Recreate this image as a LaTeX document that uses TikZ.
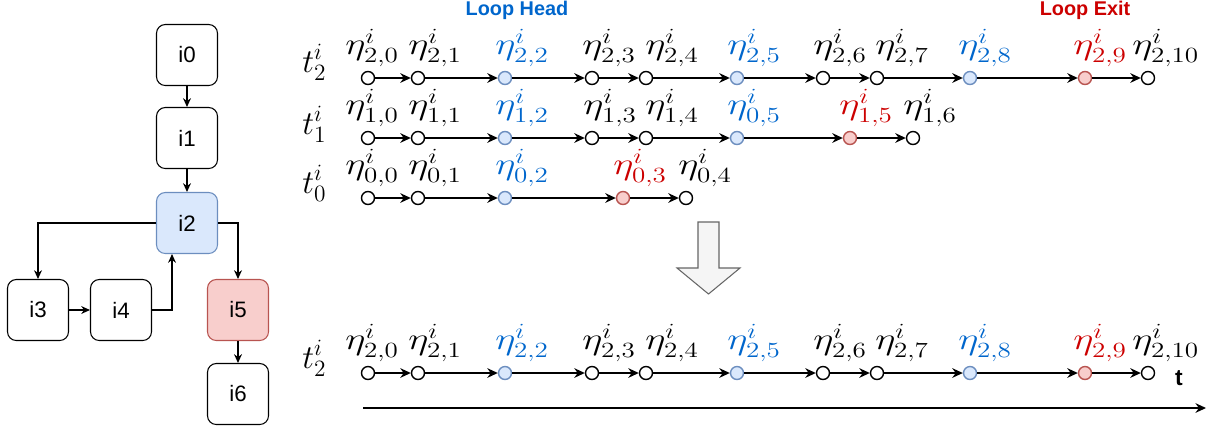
\RequirePackage{fix-cm}
\documentclass[tikz,border=0pt]{standalone}
\usepackage{fontspec}
\setsansfont{Liberation Sans}
\usetikzlibrary{arrows.meta, positioning}

\definecolor{headfill}{HTML}{DAE8FC}
\definecolor{headdraw}{HTML}{6C8EBF}
\definecolor{exitfill}{HTML}{F8CECC}
\definecolor{exitdraw}{HTML}{B85450}
\definecolor{headtext}{HTML}{0066CC}
\definecolor{exittext}{HTML}{CC0000}
\definecolor{bigfill}{HTML}{F5F5F5}
\definecolor{bigdraw}{HTML}{666666}

\begin{document}
\begin{tikzpicture}[
  x=0.02cm, y=-0.02cm,
  blk/.style={rectangle, rounded corners=5pt, draw=black, line width=0.6pt, fill=white,
              minimum width=1.22cm, minimum height=1.22cm, font=\fontsize{12.7}{15}\sffamily},
  blkhead/.style={blk, draw=headdraw, fill=headfill},
  blkexit/.style={blk, draw=exitdraw, fill=exitfill},
  ev/.style={circle, draw=black, line width=0.8pt, fill=white, minimum size=0.26cm, inner sep=0pt},
  evhead/.style={ev, draw=headdraw, fill=headfill},
  evexit/.style={ev, draw=exitdraw, fill=exitfill},
  arr/.style={-{Stealth[length=6pt, width=5.5pt]}, line width=0.8pt},
  garr/.style={-{Stealth[length=5pt, width=4.5pt]}, line width=0.6pt},
  garrb/.style={-{Stealth[length=5pt, width=4.5pt]}, line width=1pt},
  mth/.style={font=\fontsize{19}{22}\selectfont, inner sep=0pt},
  evlbl/.style={font=\fontsize{22}{26}\selectfont, inner sep=0pt, anchor=south west,
                label distance=3pt, transform shape, yscale=0.8},
  tag/.style={font=\fontsize{11.3}{13}\sffamily\bfseries}
]
  \useasboundingbox (0,0) rectangle (1212,427);

  % control flow graph
  \node[blk]     (i0) at (187, 55)  {i0};
  \node[blk]     (i1) at (187, 138) {i1};
  \node[blkhead] (i2) at (187, 223) {i2};
  \node[blk]     (i3) at (38, 310)  {i3};
  \node[blk]     (i4) at (121, 310) {i4};
  \node[blkexit] (i5) at (238, 310) {i5};
  \node[blk]     (i6) at (238, 394) {i6};

  \draw[garrb] (i0) -- (i1);
  \draw[garrb] (i1) -- (i2);
  \draw[garr]  (i2.west) -| (i3.north);
  \draw[garr]  (i2.east) -| (i5.north);
  \draw[garr]  (i3) -- (i4);
  \draw[garr]  (i4.east) -| ([xshift=-0.3cm]i2.south);
  \draw[garrb] (i5) -- (i6);

  % thread rows
  \node[tag, text=headtext] (head) at (517, 10)  {Loop Head};
  \node[tag, text=exittext] (exit) at (1085, 10) {Loop Exit};

  \node[mth, anchor=base west] (t2) at (302, 72)  {$t^i_2$};
  \node[mth, anchor=base west] (t1) at (302, 134) {$t^i_1$};
  \node[mth, anchor=base west] (t0) at (302, 193) {$t^i_0$};
  \node[mth, anchor=base west] (tm) at (302, 368) {$t^i_2$};

  \foreach \p/\y in {a/78, b/373}
    \foreach \x/\k/\s/\st/\c/\d in {368/0/{2,0}/ev/black/-23, 418/1/{2,1}/ev/black/-10,
        505/2/{2,2}/evhead/headtext/-10, 592/3/{2,3}/ev/black/-10, 646/4/{2,4}/ev/black/-1,
        737/5/{2,5}/evhead/headtext/-10, 823/6/{2,6}/ev/black/-10, 877/7/{2,7}/ev/black/-2,
        970/8/{2,8}/evhead/headtext/-12, 1085/9/{2,9}/evexit/exittext/-12,
        1148/10/{2,10}/ev/black/-16}
      \node[\st, label={[evlbl, text=\c, xshift=\d*0.02cm]north:$\eta^i_{\s}$}]
        (\p-\k) at (\x, \y) {};

  \foreach \x/\k/\s/\st/\c/\d in {368/0/{1,0}/ev/black/-23, 418/1/{1,1}/ev/black/-10,
      505/2/{1,2}/evhead/headtext/-10, 592/3/{1,3}/ev/black/-9, 646/4/{1,4}/ev/black/-1,
      737/5/{0,5}/evhead/headtext/-10, 850/6/{1,5}/evexit/exittext/-11,
      913/7/{1,6}/ev/black/-10}
    \node[\st, label={[evlbl, text=\c, xshift=\d*0.02cm]north:$\eta^i_{\s}$}]
      (c-\k) at (\x, 138) {};

  \foreach \x/\k/\s/\st/\c/\d in {368/0/{0,0}/ev/black/-23, 418/1/{0,1}/ev/black/-10,
      505/2/{0,2}/evhead/headtext/-10, 623/3/{0,3}/evexit/exittext/-10,
      686/4/{0,4}/ev/black/-8}
    \node[\st, label={[evlbl, text=\c, xshift=\d*0.02cm]north:$\eta^i_{\s}$}]
      (d-\k) at (\x, 198) {};

  \foreach \p/\n in {a/10, b/10, c/7, d/4}
    \foreach \k [remember=\k as \j (initially 0)] in {1,...,\n}
      \draw[arr] (\p-\j) -- (\p-\k);

  % merge arrow
  \draw[fill=bigfill, draw=bigdraw, line width=0.6pt]
    (698,222) -- (719,222) -- (719,268) -- (740,268) -- (708.5,294)
    -- (677,268) -- (698,268) -- cycle;

  % time axis
  \coordinate (tbeg) at (363, 408);
  \coordinate (tend) at (1206, 408);
  \draw[arr] (tbeg) -- (tend);
  \node[font=\fontsize{13}{15}\sffamily\bfseries] (tlbl) at (1179, 378) {t};
\end{tikzpicture}
\end{document}
